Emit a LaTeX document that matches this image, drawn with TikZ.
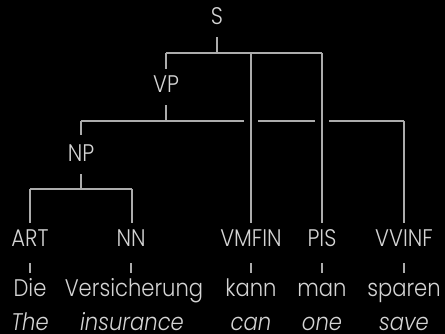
\documentclass[tikz,border=0pt]{standalone}
\usepackage{fontspec}
\setmainfont{Poppins Light}[FakeStretch=0.88]
\usetikzlibrary{calc}
\definecolor{txt}{RGB}{212,212,212}
\definecolor{ln}{RGB}{172,172,172}
\begin{document}
\begin{tikzpicture}[x=1pt,y=-1pt,
  lab/.style={text=txt, font=\fontsize{24}{24}\selectfont, anchor=base,
    inner xsep=0pt, inner ysep=7pt, text height=17pt, text depth=5pt},
  gloss/.style={lab, font=\fontsize{24}{24}\selectfont\itshape,
    inner ysep=0pt, text height=15pt, text depth=0pt},
  edge/.style={draw=ln, line width=1.2pt}]
\fill[black] (0,0) rectangle (445,334);
\useasboundingbox (0,0) rectangle (445,334);

% phrase and tag nodes
\node[lab] (S) at (217,25) {S};
\node[lab] (VP) at (166,93) {VP};
\node[lab] (NP) at (81,162) {NP};
\node[lab] (ART) at (30,247) {ART};
\node[lab] (NN) at (131,247) {NN};
\node[lab] (VMFIN) at (251,247) {VMFIN};
\node[lab] (PIS) at (322,247) {PIS};
\node[lab] (VVINF) at (404,247) {VVINF};

% German words
\node[lab] (w1) at (30,297) {Die};
\node[lab] (w2) at (134,297) {Versicherung};
\node[lab] (w3) at (251,297) {kann};
\node[lab] (w4) at (322,297) {man};
\node[lab] (w5) at (404,297) {sparen};

% English gloss
\node[gloss] (g1) at (30,330.5) {The};
\node[gloss] (g2) at (132,330.5) {insurance};
\node[gloss] (g3) at (251,330.5) {can};
\node[gloss] (g4) at (322,330.5) {one};
\node[gloss] (g5) at (404,330.5) {save};

% bar junctions
\coordinate (sbar) at (S.south |- 0,53);
\coordinate (vpbar) at (VP.south |- 0,121);
\coordinate (npbar) at (NP.south |- 0,189);

% S level
\draw[edge] (S.south) -- (sbar);
\draw[edge] (VP.north |- sbar) -- (PIS.north |- sbar);
\draw[edge] (VP.north |- sbar) -- (VP.north);
\draw[edge] (VMFIN.north |- sbar) -- (VMFIN.north);
\draw[edge] (PIS.north |- sbar) -- (PIS.north);

% VP level, broken where it crosses the S branches
\draw[edge] (VP.south) -- (vpbar);
\draw[edge] (NP.north |- vpbar) -- ($(VMFIN.north |- vpbar)+(-7,0)$);
\draw[edge] ($(VMFIN.north |- vpbar)+(7,0)$) -- ($(PIS.north |- vpbar)+(-7,0)$);
\draw[edge] ($(PIS.north |- vpbar)+(7,0)$) -- (VVINF.north |- vpbar);
\draw[edge] (NP.north |- vpbar) -- ($(NP.north)+(0,-3)$);
\draw[edge] (VVINF.north |- vpbar) -- (VVINF.north);

% NP level
\draw[edge] (NP.south) -- (npbar);
\draw[edge] (ART.north |- npbar) -- ($(NN.north |- npbar)+(1,0)$);
\draw[edge] (ART.north |- npbar) -- (ART.north);
\draw[edge] ($(NN.north |- npbar)+(1,0)$) -- ($(NN.north)+(1,0)$);

% tag to word ticks
\foreach \t/\w in {ART/w1, NN/w2, VMFIN/w3, PIS/w4, VVINF/w5}
  \draw[edge, shorten <=4pt] (\t.south) -- (\t.south |- \w.north);
\end{tikzpicture}
\end{document}
